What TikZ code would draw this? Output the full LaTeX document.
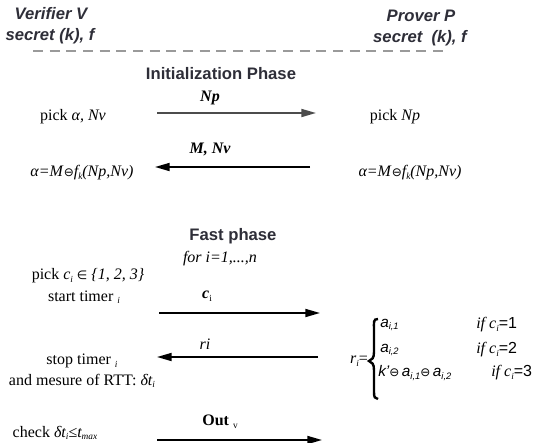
\documentclass[tikz,border=0pt]{standalone}
\usepackage{fontspec}
\setmainfont{Liberation Serif}
\setsansfont{Liberation Sans}
\newfontfamily\symf{DejaVu Sans}
\usetikzlibrary{arrows.meta}
\definecolor{hdr}{HTML}{2E2E38}
\definecolor{dashgray}{HTML}{9A9A9A}
\newcommand{\lowtxt}[1]{\raisebox{-0.35ex}{\scriptsize #1}}
\newcommand{\xo}{{\symf\small ⊖}}
\tikzset{
  hdrtxt/.style={font=\sffamily\bfseries\itshape\fontsize{12.5}{14}\selectfont, text=hdr, inner sep=0pt},
  phase/.style={font=\sffamily\bfseries\fontsize{12.5}{14}\selectfont, text=hdr, inner sep=0pt},
  body/.style={font=\fontsize{12}{14}\selectfont, inner sep=0pt},
  lbl/.style={font=\bfseries\itshape\fontsize{12}{14}\selectfont, inner sep=0pt},
  bsans/.style={body, anchor=west, font=\sffamily\itshape\fontsize{11.5}{13}\selectfont},
  msg/.style={line width=1.3pt, -{Triangle[length=11pt,width=6pt]}},
}
\begin{document}
\begin{tikzpicture}[x=0.75pt,y=-0.75pt]
\useasboundingbox (0,0) rectangle (536,443);
% headers
\node[hdrtxt] (ver) at (51,14) {Verifier V};
\node[hdrtxt] (vsec) at (50,36) {secret (k), f};
\node[hdrtxt] (pro) at (421,16) {Prover P};
\node[hdrtxt] (psec) at (420,38) {secret\ \ (k), f};
\coordinate (dl) at (33,51);
\coordinate (dr) at (449,51);
\draw[dashgray, line width=2pt, dash pattern=on 7.5pt off 5pt] (dl) -- (dr);
% initialization
\node[phase] (init) at (221,74) {Initialization Phase};
\node[body] (pickv) at (73,117) {pick \textit{α, Nv}};
\node[body] (pickp) at (395,117) {pick \textit{Np}};
\coordinate (a1s) at (157,113);
\coordinate (a1e) at (316,113);
\draw[msg, draw=black!70, fill=black!70] (a1s) -- (a1e);
\node[lbl] (lnp) at (210,98) {Np};
\coordinate (a2s) at (310,167);
\coordinate (a2e) at (155,167);
\draw[msg] (a2s) -- (a2e);
\node[lbl] (lmnv) at (210,149) {M, Nv};
\node[body] (alv) at (82,173) {\textit{α=M}\xo\textit{f\lowtxt{k}(Np,Nv)}};
\node[body] (alp) at (410,173) {\textit{α=M}\xo\textit{f\lowtxt{k}(Np,Nv)}};
% fast phase
\node[phase] (fast) at (233,236) {Fast phase};
\node[body] (forl) at (220,259) {\textit{for i=1,...,n}};
\node[body] (pickc) at (88,276) {pick \textit{c\lowtxt{i}} {\symf\small ∈} \textit{\{1, 2, 3\}}};
\node[body] (start) at (84,297) {start timer \textit{\lowtxt{i}}};
\coordinate (a3s) at (159,313);
\coordinate (a3e) at (320,313);
\draw[msg] (a3s) -- (a3e);
\node[lbl] (lci) at (207,296) {c\textup{\mdseries\lowtxt{i}}};
\coordinate (a4s) at (318,357);
\coordinate (a4e) at (157,357);
\draw[msg] (a4s) -- (a4e);
\node[body] (lri) at (205,344) {\textit{ri}};
\node[body] (stop) at (82,361) {stop timer \textit{\lowtxt{i}}};
\node[body] (rtt) at (82,381) {and mesure of RTT: \textit{δt\lowtxt{i}}};
% r_i definition
\node[body] (rdef) at (359,361) {\textit{r\lowtxt{i}}=};
\draw[line width=1.8pt] (378,319) .. controls (373,319) and (374,322) .. (374,330) -- (374,352) .. controls (374,358) and (372,360) .. (369,361) .. controls (372,362) and (374,364) .. (374,370) -- (374,392) .. controls (374,398) and (375,398) .. (378,399);
\node[bsans] (r1) at (380,325) {a\lowtxt{i,1}};
\node[bsans] (r2) at (380,350) {a\lowtxt{i,2}};
\node[bsans] (r3) at (378,373) {k'\xo\,a\lowtxt{i,1}\xo\,a\lowtxt{i,2}};
\node[body, anchor=west] (c1) at (476,325) {\textit{if c\lowtxt{i}}\textsf{=1}};
\node[body, anchor=west] (c2) at (476,350) {\textit{if c\lowtxt{i}}\textsf{=2}};
\node[body, anchor=west] (c3) at (491,373) {\textit{if c\lowtxt{i}}\textsf{=3}};
% final
\node[body] (check) at (55,433) {check \textit{δt\lowtxt{i}}≤\textit{t\lowtxt{max}}};
\coordinate (a5s) at (157,440);
\coordinate (a5e) at (322,440);
\draw[msg] (a5s) -- (a5e);
\node[body] (lout) at (220,422) {\textbf{Out} \lowtxt{v}};
\end{tikzpicture}
\end{document}
